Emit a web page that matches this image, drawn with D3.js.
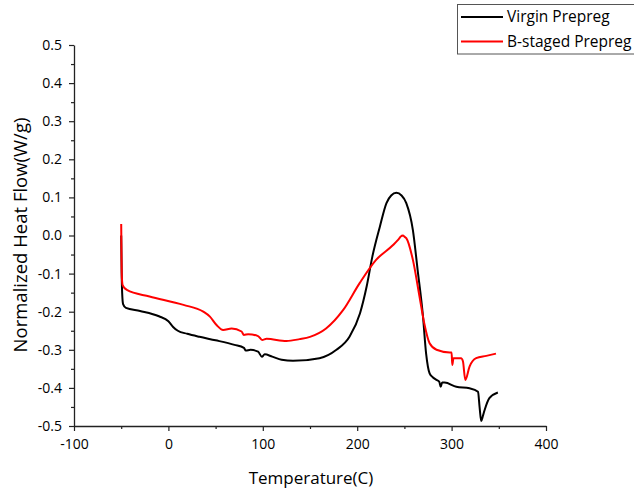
<!DOCTYPE html>
<html>
<head>
<meta charset="utf-8">
<script src="https://cdn.jsdelivr.net/npm/d3@7"></script>
<style>
  body { margin: 0; background: #fff; }
  svg { display: block; font-family: "Open Sans", sans-serif; }
</style>
</head>
<body>
<div id="container"></div>
<script>
// series (temperature in C, heat flow in W/g)
const virginT = [-50, -49.5, -49, -48, -45, -30, -10, 0, 5, 10, 20, 33, 50, 70, 80, 82, 87, 95, 99, 102, 110, 120, 132, 160, 178, 192, 203, 210, 216, 224, 231, 236, 241.5, 247, 252, 259, 264, 269.6, 273, 276.7, 280, 284, 287, 288.4, 290, 292.6, 305, 319, 328, 329.6, 331.4, 333, 335, 340, 349];
const virginQ = [0.0, -0.1, -0.15, -0.18, -0.19, -0.198, -0.212, -0.225, -0.24, -0.25, -0.258, -0.266, -0.275, -0.287, -0.295, -0.302, -0.3, -0.305, -0.318, -0.312, -0.318, -0.326, -0.329, -0.322, -0.3, -0.265, -0.204, -0.134, -0.056, 0.023, 0.085, 0.105, 0.112, 0.105, 0.085, 0.014, -0.09, -0.21, -0.31, -0.362, -0.372, -0.379, -0.384, -0.397, -0.386, -0.386, -0.397, -0.401, -0.41, -0.449, -0.487, -0.475, -0.458, -0.427, -0.412];

const bstagedT = [-50, -49.7, -49.3, -48.5, -44, -20, 16, 37, 44, 51, 58, 67, 77.5, 80, 84.5, 95, 99.3, 104, 125, 139, 150, 167, 185, 202.6, 220, 238, 243, 245, 246, 248.5, 250, 252, 259, 266, 271, 276.7, 284, 298, 300, 300.7, 302, 310, 312, 314.5, 319, 326, 336.7, 347];
const bstagedQ = [0.03, -0.05, -0.11, -0.13, -0.143, -0.16, -0.182, -0.2, -0.213, -0.235, -0.248, -0.244, -0.252, -0.261, -0.259, -0.264, -0.274, -0.271, -0.277, -0.272, -0.266, -0.244, -0.196, -0.125, -0.064, -0.025, -0.012, -0.006, -0.003, 0.0, -0.003, -0.007, -0.064, -0.16, -0.23, -0.283, -0.3, -0.307, -0.307, -0.34, -0.322, -0.322, -0.33, -0.379, -0.344, -0.322, -0.316, -0.31];

const seriesNames = ["Virgin Prepreg", "B-staged Prepreg"];
const seriesColors = ["#000000", "#ff0000"];
const xTicks = [-100, 0, 100, 200, 300, 400];
const yTicks = [0.5, 0.4, 0.3, 0.2, 0.1, 0.0, -0.1, -0.2, -0.3, -0.4, -0.5];

const width = 634, height = 492;
const plotLeft = 74, plotRight = 546, plotTop = 45, plotBottom = 426;

// plain hyphen for negatives, like the original
const locale = d3.formatLocale({decimal: ".", thousands: ",", grouping: [3], currency: ["", ""], minus: "-"});

const svg = d3.select("#container")
  .append("svg")
  .attr("width", width)
  .attr("height", height)
  .attr("viewBox", [0, 0, width, height]);

const x = d3.scaleLinear().domain([-100, 400]).range([plotLeft, plotRight]);
const y = d3.scaleLinear().domain([-0.5, 0.5]).range([plotBottom, plotTop]);

// minor ticks first (short), then major axes on top
svg.append("g")
  .attr("transform", `translate(0,${plotBottom})`)
  .call(d3.axisBottom(x).tickValues(d3.range(-50, 400, 100)).tickSize(3).tickFormat(""))
  .call(g => g.select(".domain").remove())
  .call(g => g.selectAll("line").attr("stroke", "#222").attr("stroke-width", 1.2));

svg.append("g")
  .attr("transform", `translate(${plotLeft},0)`)
  .call(d3.axisLeft(y).tickValues(d3.range(-0.45, 0.5, 0.1)).tickSize(3).tickFormat(""))
  .call(g => g.select(".domain").remove())
  .call(g => g.selectAll("line").attr("stroke", "#222").attr("stroke-width", 1.2));

svg.append("g")
  .attr("transform", `translate(0,${plotBottom})`)
  .call(d3.axisBottom(x).tickValues(xTicks).tickSize(5).tickSizeOuter(0).tickPadding(8).tickFormat(locale.format("d")))
  .call(g => g.select(".domain").attr("stroke", "#222").attr("stroke-width", 1.3))
  .call(g => g.selectAll("line").attr("stroke", "#222").attr("stroke-width", 1.2))
  .call(g => g.selectAll("text").attr("font-size", 14).attr("fill", "#000")
    .attr("font-family", "'Open Sans', sans-serif"));

svg.append("g")
  .attr("transform", `translate(${plotLeft},0)`)
  .call(d3.axisLeft(y).tickValues(yTicks).tickSize(5).tickSizeOuter(0).tickPadding(7).tickFormat(locale.format(".1f")))
  .call(g => g.select(".domain").attr("stroke", "#222").attr("stroke-width", 1.3))
  .call(g => g.selectAll("line").attr("stroke", "#222").attr("stroke-width", 1.2))
  .call(g => g.selectAll("text").attr("font-size", 14).attr("fill", "#000")
    .attr("font-family", "'Open Sans', sans-serif"));

// axis titles
svg.append("text")
  .attr("x", 311)
  .attr("y", 484)
  .attr("text-anchor", "middle")
  .attr("font-size", 17)
  .text("Temperature(C)");

svg.append("text")
  .attr("transform", `translate(27,235) rotate(-90)`)
  .attr("text-anchor", "middle")
  .attr("font-size", 18.5)
  .text("Normalized Heat Flow(W/g)");

// curves
const line = d3.line()
  .x(d => x(d[0]))
  .y(d => y(d[1]))
  .curve(d3.curveMonotoneX);

const series = [
  d3.zip(virginT, virginQ),
  d3.zip(bstagedT, bstagedQ)
];

svg.selectAll("path.curve")
  .data(series)
  .enter()
  .append("path")
  .attr("class", "curve")
  .attr("d", line)
  .attr("fill", "none")
  .attr("stroke", (d, i) => seriesColors[i])
  .attr("stroke-width", 2)
  .attr("stroke-linejoin", "round");

// legend
const legend = svg.append("g");
legend.append("rect")
  .attr("x", 457.5).attr("y", 4.5)
  .attr("width", 180).attr("height", 49.5)
  .attr("fill", "#fff")
  .attr("stroke", "#555");

seriesNames.forEach((name, i) => {
  const ly = 17 + i * 24.5;
  legend.append("line")
    .attr("x1", 461).attr("x2", 503)
    .attr("y1", ly).attr("y2", ly)
    .attr("stroke", seriesColors[i])
    .attr("stroke-width", 2);
  legend.append("text")
    .attr("x", 507).attr("y", ly)
    .attr("dy", "0.35em")
    .attr("font-size", 15.5)
    .text(name);
});
</script>
</body>
</html>
